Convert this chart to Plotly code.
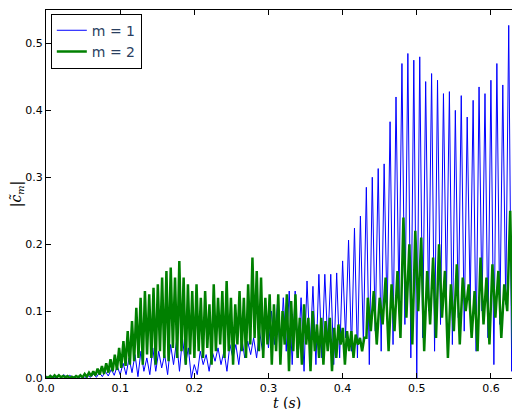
import plotly.graph_objects as go
import numpy as np

# m = 1: peak / trough values, one oscillation every 0.008 s
m1_period = 0.008
m1_peaks = [0.002, 0.003, 0.004, 0.005, 0.004, 0.003, 0.003, 0.004, 0.006, 0.008, 0.01, 0.013, 0.018,
            0.022, 0.03, 0.035, 0.04, 0.03, 0.045, 0.04, 0.035, 0.05, 0.055, 0.06, 0.045, 0.02,
            0.04, 0.035, 0.04, 0.045, 0.04, 0.05, 0.05, 0.06, 0.055, 0.06, 0.07, 0.09, 0.10, 0.11, 0.12,
            0.13, 0.13, 0.12, 0.145, 0.137, 0.155, 0.155, 0.155, 0.157,
            0.175, 0.206, 0.224, 0.242, 0.285, 0.30, 0.313, 0.32, 0.383, 0.42, 0.47, 0.485, 0.475,
            0.48, 0.443, 0.455, 0.445, 0.425, 0.428, 0.40, 0.422, 0.39, 0.415, 0.435, 0.425, 0.445,
            0.47, 0.438, 0.527, 0.49, 0.435, 0.30]
m1_troughs = [0, 0, 0.001, 0.001, 0.001, 0, 0, 0.001, 0.001, 0.002, 0.003, 0.004, 0.005,
              0.005, 0.008, 0.002, 0.01, 0.005, 0.01, 0.015, 0.005, 0.02, 0.01, 0.02, 0.0, 0.005,
              0.02, 0.01, 0.025, 0.02, 0.01, 0.03, 0.02, 0.03, 0.035, 0.03, 0.04, 0.045, 0.05, 0.03, 0.04,
              0.02, 0.03, 0.01, 0.04, 0.02, 0.03, 0.05, 0.02, 0.03,
              0.06, 0.04, 0.03, 0.05, 0.02, 0.07, 0.04, 0.09, 0.05, 0.11, 0.08, 0.03, 0.0, 0.06,
              0.1, 0.04, 0.08, 0.12, 0.05, 0.09, 0.07, 0.11, 0.04, 0.1, 0.06, 0.02, 0.08, 0.11,
              0.01, 0.07, 0.03, 0.10]

# m = 2: fast oscillation up to 0.43 s, slower afterwards
m2_early_period = 0.0058
m2_early_peaks = [0.002, 0.003, 0.004, 0.004, 0.003, 0.003, 0.002, 0.003, 0.004, 0.006, 0.008, 0.01,
                  0.014, 0.018, 0.022, 0.028, 0.035, 0.045,
                  0.055, 0.07, 0.085, 0.105, 0.12, 0.13, 0.125, 0.135, 0.14, 0.15, 0.16, 0.165, 0.15,
                  0.175, 0.15, 0.14, 0.13, 0.14,
                  0.12, 0.13, 0.11, 0.14, 0.12, 0.13, 0.145, 0.12, 0.11, 0.13, 0.12, 0.14, 0.18, 0.16,
                  0.15, 0.12, 0.125,
                  0.11, 0.125, 0.1, 0.125, 0.115, 0.125, 0.09, 0.11, 0.09, 0.1, 0.08, 0.09, 0.085, 0.09,
                  0.075, 0.08, 0.075, 0.07, 0.07, 0.065, 0.06, 0.06]
m2_early_troughs = [0, 0, 0.001, 0.001, 0.001, 0, 0, 0.001, 0.001, 0.002, 0.003, 0.004, 0.005, 0.006,
                    0.008, 0.01, 0.012, 0.015,
                    0.018, 0.02, 0.025, 0.03, 0.02, 0.035, 0.03, 0.02, 0.04, 0.03, 0.025, 0.045, 0.03,
                    0.04, 0.02, 0.035, 0.03, 0.04,
                    0.03, 0.045, 0.02, 0.04, 0.05, 0.03, 0.04, 0.02, 0.05, 0.04, 0.03, 0.05, 0.06, 0.04,
                    0.03, 0.05, 0.02,
                    0.04, 0.02, 0.05, 0.01, 0.04, 0.03, 0.02, 0.05, 0.01, 0.04, 0.03, 0.02, 0.04, 0.01,
                    0.03, 0.05, 0.02, 0.04, 0.03, 0.05, 0.04, 0.06]
m2_late_start = 0.434
m2_late_period = 0.008
m2_late_peaks = [0.12, 0.13, 0.12, 0.15, 0.14, 0.16, 0.24, 0.2, 0.22, 0.21, 0.16, 0.18, 0.2, 0.16,
                 0.14, 0.17, 0.15, 0.14, 0.13, 0.18, 0.15, 0.17, 0.16, 0.14, 0.25, 0.2, 0.15]
m2_late_troughs = [0.07, 0.05, 0.08, 0.04, 0.07, 0.06, 0.09, 0.05, 0.1, 0.04, 0.08, 0.06, 0.09, 0.03,
                   0.07, 0.05, 0.1, 0.06, 0.04, 0.08, 0.05, 0.09, 0.06, 0.1, 0.04, 0.08, 0.12]


def weave(start, period, peaks, troughs):
    t, v = [], []
    for k, (p, q) in enumerate(zip(peaks, troughs)):
        t += [start + k * period, start + k * period + period / 2]
        v += [p, q]
    return t, v


t1, c1 = weave(0.0, m1_period, m1_peaks, m1_troughs)
ta, ca = weave(0.0, m2_early_period, m2_early_peaks, m2_early_troughs)
tb, cb = weave(m2_late_start, m2_late_period, m2_late_peaks, m2_late_troughs)
t2, c2 = ta + tb, ca + cb

fig = go.Figure()
fig.add_trace(go.Scatter(x=t1, y=c1, mode="lines", name="m = 1",
                         line=dict(color="#0000ff", width=1)))
fig.add_trace(go.Scatter(x=t2, y=c2, mode="lines", name="m = 2",
                         line=dict(color="#008000", width=2.5)))

axis = dict(showgrid=False, zeroline=False, showline=True, linecolor="black", linewidth=1,
            mirror="ticks", ticks="inside", ticklen=5, tickcolor="black", automargin=False,
            tickfont=dict(family="DejaVu Sans", size=11, color="black"))
fig.update_xaxes(range=[0, 0.65], dtick=0.1, tickformat=".1f",
                 title=dict(text="<i>t</i> (<i>s</i>)",
                            font=dict(family="DejaVu Serif", size=14, color="black"),
                            standoff=2), **axis)
fig.update_yaxes(range=[0, 0.55], dtick=0.1, tickformat=".1f",
                 title=dict(text="|<i>c̃<sub>m</sub></i>|",
                            font=dict(family="DejaVu Serif", size=14, color="black"),
                            standoff=2), **axis)
fig.update_layout(width=520, height=409, margin=dict(l=38, r=0, t=2, b=39),
                  plot_bgcolor="white", paper_bgcolor="white",
                  legend=dict(x=0.01, y=0.99, xanchor="left", yanchor="top",
                              bordercolor="black", borderwidth=1, bgcolor="white",
                              font=dict(family="DejaVu Sans", size=14)))
fig.write_html("out.html")
